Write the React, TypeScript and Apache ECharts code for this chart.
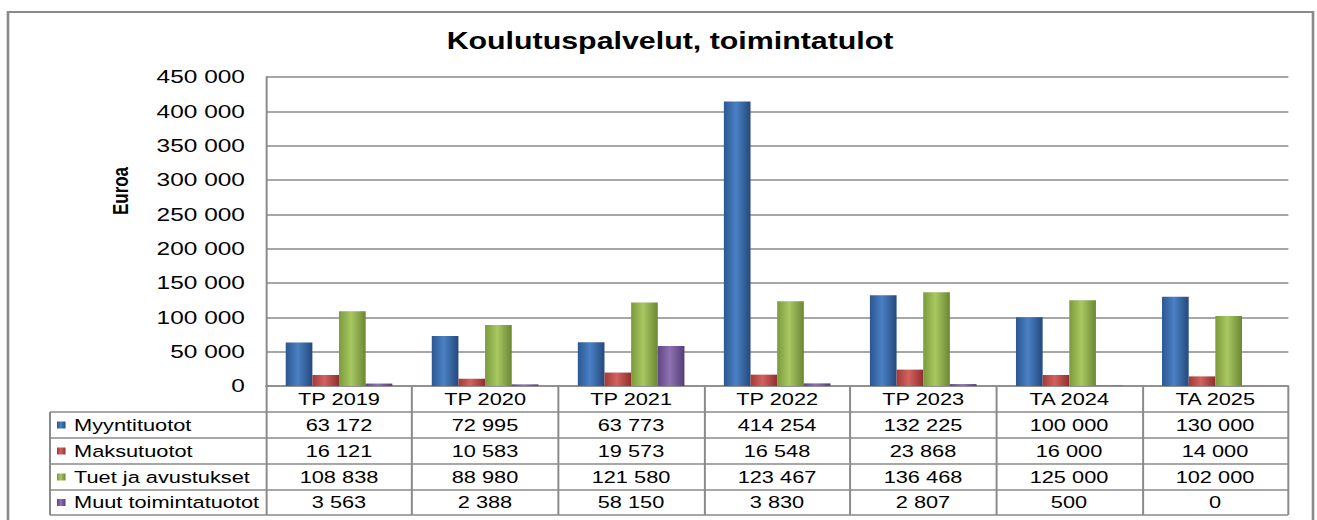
import React, { useEffect, useRef } from "react";
import * as echarts from "echarts";

const categories = ["TP 2019", "TP 2020", "TP 2021", "TP 2022", "TP 2023", "TA 2024", "TA 2025"];
const seriesNames = ["Myyntituotot", "Maksutuotot", "Tuet ja avustukset", "Muut toimintatuotot"];
const myyntituotot = [63172, 72995, 63773, 414254, 132225, 100000, 130000];
const maksutuotot = [16121, 10583, 19573, 16548, 23868, 16000, 14000];
const tuetJaAvustukset = [108838, 88980, 121580, 123467, 136468, 125000, 102000];
const muutToimintatuotot = [3563, 2388, 58150, 3830, 2807, 500, 0];
const yMin = 0;
const yMax = 450000;
const yInterval = 50000;
const titleText = "Koulutuspalvelut, toimintatulot";
const yAxisTitle = "Euroa";

// layout (unscaled coordinates; the chart is stretched horizontally by SX)
const SX = 1.32;
const W = 1317 / SX;
const H = 520;
const GRID_LEFT = 266 / SX;
const GRID_RIGHT_X = 1288 / SX;
const GRID_TOP = 77;
const AXIS_Y = 386;
const ROW_LINES = [412, 438, 464, 490, 515];
const TABLE_LEFT = 50 / SX;
const FONT = "'Liberation Sans', Arial, sans-serif";
const GRAY = "#8a8a8a";

const palette = [
  ["#2b5791", "#4a80c4", "#24497c"],
  ["#a23a37", "#d3625e", "#8f302e"],
  ["#7b9a3c", "#a8c862", "#6b8733"],
  ["#5f4684", "#8f72b3", "#543d75"],
];

const fmt = (n: number) => String(n).replace(/\B(?=(\d{3})+(?!\d))/g, " ");

const grad = (c: string[]) =>
  new echarts.graphic.LinearGradient(0, 0, 1, 0, [
    { offset: 0, color: c[0] },
    { offset: 0.45, color: c[1] },
    { offset: 1, color: c[2] },
  ]);

export default function App() {
  const ref = useRef<HTMLDivElement>(null);
  useEffect(() => {
    if (!ref.current) return;
    const chart = echarts.init(ref.current, null, { renderer: "svg" });
    const data = [myyntituotot, maksutuotot, tuetJaAvustukset, muutToimintatuotot];
    const catW = (GRID_RIGHT_X - GRID_LEFT) / categories.length;

    const graphics: any[] = [];
    // outer border
    graphics.push({
      type: "rect",
      shape: { x: 8 / SX, y: 12, width: (1313 - 8) / SX, height: 530 },
      style: { fill: "none", stroke: GRAY, lineWidth: 2 },
      silent: true,
    });
    // table horizontal lines
    ROW_LINES.forEach((y) => {
      graphics.push({
        type: "line",
        shape: { x1: TABLE_LEFT, y1: y, x2: GRID_RIGHT_X, y2: y },
        style: { stroke: GRAY, lineWidth: 1.5 },
        silent: true,
      });
    });
    graphics.push({
      type: "line",
      shape: { x1: TABLE_LEFT, y1: ROW_LINES[0], x2: TABLE_LEFT, y2: ROW_LINES[ROW_LINES.length - 1] },
      style: { stroke: GRAY, lineWidth: 1.5 },
      silent: true,
    });
    // table rows
    data.forEach((vals, r) => {
      const cy = (ROW_LINES[r] + ROW_LINES[r + 1]) / 2;
      graphics.push({
        type: "rect",
        shape: { x: 57 / SX, y: cy - 3.5, width: 8.5 / SX, height: 7 },
        style: { fill: grad(palette[r]) },
        silent: true,
      });
      graphics.push({
        type: "text",
        x: 74 / SX,
        y: cy,
        style: {
          text: seriesNames[r],
          fontSize: 16.5,
          fontFamily: FONT,
          fill: "#000",
          align: "left",
          verticalAlign: "middle",
        },
        silent: true,
      });
      vals.forEach((v, c) => {
        graphics.push({
          type: "text",
          x: GRID_LEFT + (c + 0.5) * catW,
          y: cy,
          style: {
            text: fmt(v),
            fontSize: 16.5,
            fontFamily: FONT,
            fill: "#000",
            align: "center",
            verticalAlign: "middle",
          },
          silent: true,
        });
      });
    });
    // y axis title
    graphics.push({
      type: "text",
      x: 120.5 / SX,
      y: 191,
      rotation: Math.PI / 2,
      style: {
        text: yAxisTitle,
        fontSize: 17,
        fontWeight: "bold",
        fontFamily: FONT,
        fill: "#000",
        align: "center",
        verticalAlign: "middle",
      },
      silent: true,
    });

    chart.setOption({
      animation: false,
      backgroundColor: "#fff",
      title: {
        text: titleText,
        left: 670 / SX,
        textAlign: "center",
        top: 30,
        padding: 0,
        textStyle: { fontSize: 23, fontWeight: "bold", fontFamily: FONT, color: "#000" },
      },
      grid: {
        left: GRID_LEFT,
        right: W - GRID_RIGHT_X,
        top: GRID_TOP,
        bottom: H - AXIS_Y,
        containLabel: false,
      },
      xAxis: {
        type: "category",
        data: categories,
        axisLine: { show: true, lineStyle: { color: GRAY, width: 1.5 } },
        axisTick: {
          show: true,
          alignWithLabel: false,
          length: ROW_LINES[ROW_LINES.length - 1] - AXIS_Y,
          lineStyle: { color: GRAY, width: 1.5 },
        },
        axisLabel: {
          margin: 0,
          lineHeight: 26,
          fontSize: 16.5,
          fontFamily: FONT,
          color: "#000",
        },
      },
      yAxis: {
        type: "value",
        min: yMin,
        max: yMax,
        interval: yInterval,
        axisLine: { show: true, lineStyle: { color: GRAY, width: 1.5 } },
        axisTick: { show: false },
        splitLine: { lineStyle: { color: GRAY, width: 1.5 } },
        axisLabel: {
          margin: 16,
          fontSize: 18.5,
          fontFamily: FONT,
          color: "#000",
          formatter: (v: number) => fmt(v),
        },
      },
      series: data.map((vals, i) => ({
        name: seriesNames[i],
        type: "bar",
        data: vals,
        barGap: "0%",
        barCategoryGap: "27%",
        itemStyle: { color: grad(palette[i]) },
      })),
      graphic: graphics,
    });
    return () => chart.dispose();
  }, []);

  return (
    <div
      ref={ref}
      style={{
        position: "absolute",
        left: 0,
        top: 0,
        width: W,
        height: H,
        transform: `scaleX(${SX})`,
        transformOrigin: "0 0",
      }}
    />
  );
}
